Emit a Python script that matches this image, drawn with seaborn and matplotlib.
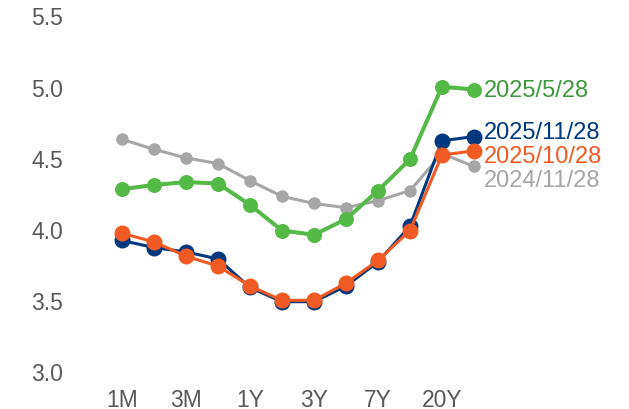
import pandas as pd
import matplotlib.pyplot as plt
import seaborn as sns

sns.set_style('white')
plt.rcParams['font.family'] = ['Liberation Sans', 'DejaVu Sans']

tenors = ['1M', '2M', '3M', '6M', '1Y', '2Y', '3Y', '5Y', '7Y', '10Y', '20Y', '30Y']

y_2024_11_28 = [4.63, 4.56, 4.50, 4.46, 4.34, 4.23, 4.18, 4.15, 4.20, 4.27, 4.53, 4.44]
y_2025_05_28 = [4.28, 4.31, 4.33, 4.32, 4.17, 3.99, 3.96, 4.07, 4.27, 4.49, 5.00, 4.98]
y_2025_11_28 = [3.92, 3.87, 3.84, 3.79, 3.59, 3.49, 3.49, 3.60, 3.77, 4.02, 4.62, 4.65]
y_2025_10_28 = [3.97, 3.91, 3.81, 3.74, 3.60, 3.50, 3.50, 3.62, 3.78, 3.99, 4.52, 4.55]

tick_labels = ['1M', '3M', '1Y', '3Y', '7Y', '20Y']

# name, values, line colour, text colour, marker size, line width, label offset (pt)
series = [
    ('2024/11/28', y_2024_11_28, '#a6a6a6', '#a6a6a6', 9.0, 2.2, -10),
    ('2025/5/28', y_2025_05_28, '#55b947', '#3c9a3a', 10.8, 2.9, 0),
    ('2025/11/28', y_2025_11_28, '#00387f', '#00387f', 11.5, 2.2, 3),
    ('2025/10/28', y_2025_10_28, '#f15a22', '#f15a22', 11.5, 2.2, -4),
]

fig = plt.figure(figsize=(6.29, 4.10), dpi=100)
ax = fig.add_axes([0.1685, 0.0915, 0.6105, 0.8683])

for name, vals, color, tcolor, ms, lw, dy in series:
    df = pd.DataFrame({'tenor': tenors, 'yield': vals})
    sns.lineplot(data=df, x='tenor', y='yield', ax=ax, color=color, linewidth=lw,
                 marker='o', markersize=ms, markeredgewidth=0, sort=False)
    ax.annotate(name, xy=(len(tenors) - 1, vals[-1]), xytext=(7, dy),
                textcoords='offset points', va='center', ha='left',
                fontsize=17, color=tcolor, annotation_clip=False)

ax.set_xlim(-0.5, len(tenors) - 0.5)
ax.set_ylim(3.0, 5.5)
ax.set_yticks([3.0, 3.5, 4.0, 4.5, 5.0, 5.5])
ax.set_yticklabels([f'{v:.1f}' for v in [3.0, 3.5, 4.0, 4.5, 5.0, 5.5]])
ax.set_xticks([tenors.index(t) for t in tick_labels])
ax.set_xticklabels(tick_labels)
ax.tick_params(axis='both', length=0, labelsize=16.5, labelcolor='#595959')
ax.tick_params(axis='y', pad=31)
ax.tick_params(axis='x', pad=12)
ax.set_xlabel('')
ax.set_ylabel('')
sns.despine(ax=ax, left=True, bottom=True)

fig.savefig('out.png', dpi=100)
